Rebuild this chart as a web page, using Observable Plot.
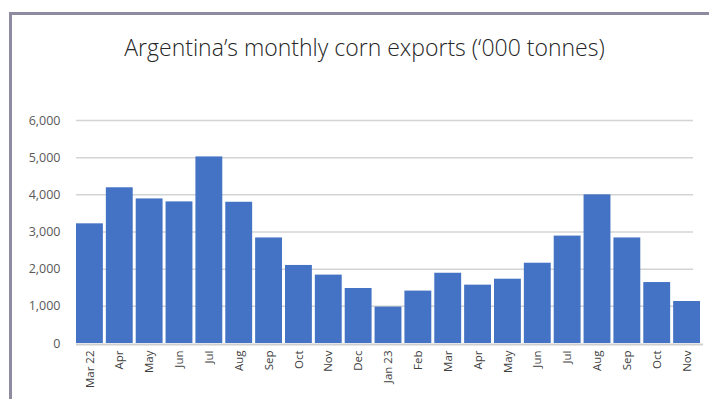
<!DOCTYPE html>
<html>
<head>
<meta charset="utf-8">
<script src="https://cdn.jsdelivr.net/npm/d3@7"></script>
<script src="https://cdn.jsdelivr.net/npm/@observablehq/plot@0.6"></script>
<style>
  html, body { margin: 0; padding: 0; background: #fff; width: 709px; height: 399px; overflow: hidden; }
  #frame { position: absolute; left: 9px; top: 12px; width: 700px; height: 387px; box-sizing: border-box;
           border-top: 3px solid #8e8aa0; border-left: 3px solid #8e8aa0; }
  #title { position: absolute; left: 0; top: 31px; width: 709px; padding-left: 20px; box-sizing: border-box;
           text-align: center; font-family: "Open Sans", sans-serif; font-weight: 300; font-size: 23px; color: #262626; white-space: nowrap; }
  #chart { position: absolute; left: 0; top: 100px; }
</style>
</head>
<body>
<div id="frame"></div>
<div id="title">Argentina’s monthly corn exports (‘000 tonnes)</div>
<div id="chart"></div>
<script>
const months = ["Mar 22","Apr","May","Jun","Jul","Aug","Sep","Oct","Nov","Dec","Jan 23","Feb","Mar","Apr ","May ","Jun ","Jul ","Aug ","Sep ","Oct ","Nov "];
const exportsK = [3220, 4190, 3890, 3810, 5020, 3800, 2840, 2100, 1840, 1480, 980, 1410, 1890, 1570, 1730, 2160, 2890, 4000, 2840, 1640, 1130];
const yTicks = [0, 1000, 2000, 3000, 4000, 5000, 6000];

const data = months.map((m, i) => ({month: m, value: exportsK[i]}));

const chart = Plot.plot({
  width: 709,
  height: 299,
  marginTop: 20,
  marginBottom: 56,
  marginLeft: 73,
  marginRight: 6,
  style: { fontFamily: "'Open Sans', sans-serif", background: "transparent" },
  x: { domain: months, paddingInner: 0.1, paddingOuter: 0.1, round: false, label: null },
  y: { domain: [0, 6000], label: null },
  marks: [
    Plot.ruleY(yTicks.filter(d => d > 0), { stroke: "#d4d4d4", strokeWidth: 1.5, insetLeft: 3, insetRight: 10 }),
    Plot.barY(data, { x: "month", y: "value", fill: "#4472c4" }),
    Plot.ruleY([0], { stroke: "#cfcfcf", strokeWidth: 2, dy: 1, insetLeft: 3 }),
    Plot.axisY({ ticks: yTicks, tickSize: 0, tickPadding: 13, tickFormat: d3.format(","), fontSize: 12.5, fill: "#595959", label: null }),
    Plot.axisX({ tickSize: 0, tickPadding: 7, tickRotate: -90, fontSize: 11.5, fill: "#404040", label: null, tickFormat: d => d.trim() })
  ]
});
document.getElementById("chart").appendChild(chart);
</script>
</body>
</html>
